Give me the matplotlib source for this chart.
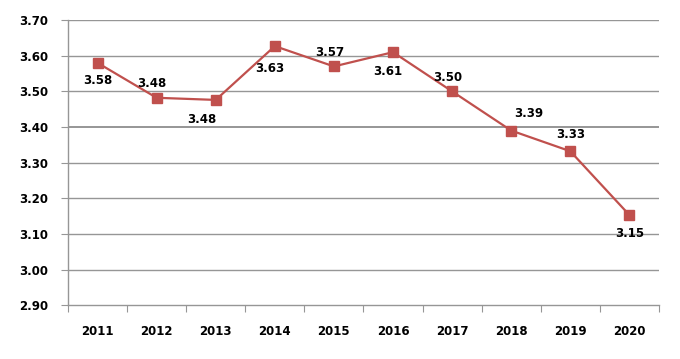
import matplotlib
matplotlib.use("Agg")
import matplotlib.pyplot as plt
from matplotlib.ticker import FixedLocator, NullFormatter

years = ["2011", "2012", "2013", "2014", "2015", "2016", "2017", "2018", "2019", "2020"]
values = [3.58, 3.482, 3.476, 3.627, 3.57, 3.61, 3.50, 3.39, 3.332, 3.153]
labels = ["3.58", "3.48", "3.48", "3.63", "3.57", "3.61", "3.50", "3.39", "3.33", "3.15"]
# label offsets in pixels (dx, dy)
offsets = [(0, -18), (-5, 14), (-14, -20), (-5, -22), (-4, 14),
           (-5, -19), (-4, 14), (18, 17), (0, 17), (0, -18)]
yticks = [2.90, 3.00, 3.10, 3.20, 3.30, 3.40, 3.50, 3.60, 3.70]

fig = plt.figure(figsize=(6.8, 3.59), dpi=100)
ax = fig.add_axes([0.1, 0.150, 0.869, 0.794])

x = list(range(len(years)))
ax.plot(x, values, color="#C0504D", lw=1.6, marker="s", markersize=6.5,
        markerfacecolor="#C0504D", markeredgecolor="#C0504D", zorder=3)

for xi, v, lab, (dx, dy) in zip(x, values, labels, offsets):
    ax.annotate(lab, (xi, v), xytext=(dx, dy), textcoords="offset pixels",
                ha="center", va="center", fontsize=8.5, fontweight="bold",
                color="black", zorder=4)

ax.set_xlim(-0.5, len(years) - 0.5)
ax.set_ylim(2.90, 3.70)
ax.set_yticks(yticks)
ax.set_yticklabels([f"{t:.2f}" for t in yticks], fontsize=8.5, fontweight="bold")
for t in yticks[1:]:
    lw = 1.4 if abs(t - 3.40) < 1e-6 else 1.0
    ax.axhline(t, color="#969696", lw=lw, zorder=1)

ax.xaxis.set_major_locator(FixedLocator([i - 0.5 for i in range(len(years) + 1)]))
ax.xaxis.set_major_formatter(NullFormatter())
ax.xaxis.set_minor_locator(FixedLocator(x))
ax.set_xticklabels(years, minor=True, fontsize=8.5, fontweight="bold")
ax.tick_params(axis="x", which="minor", length=0, pad=14)
ax.tick_params(axis="x", which="major", length=5, color="#969696", direction="out")
ax.tick_params(axis="y", length=5, color="#969696", direction="out", pad=9)

for s in ["top", "right"]:
    ax.spines[s].set_visible(False)
for s in ["left", "bottom"]:
    ax.spines[s].set_color("#969696")
    ax.spines[s].set_linewidth(1.0)

fig.savefig("out.png", dpi=100)
